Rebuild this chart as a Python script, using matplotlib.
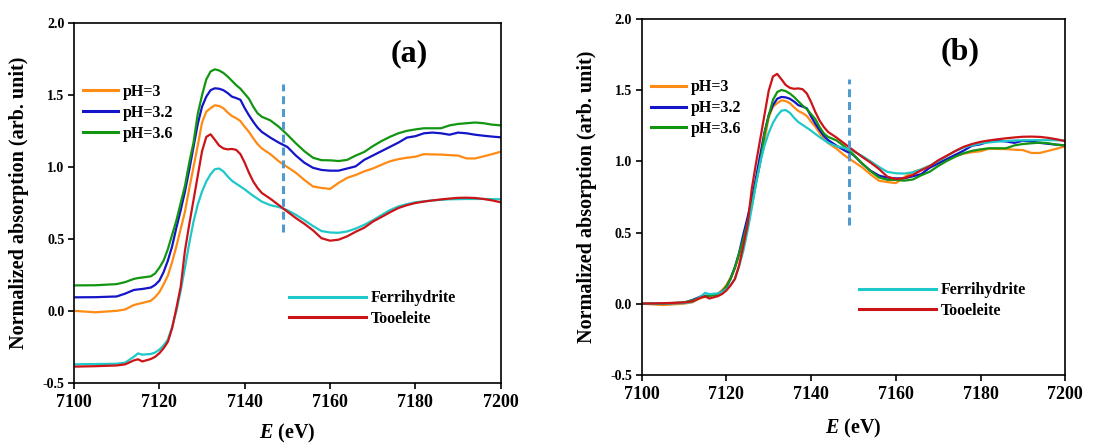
import numpy as np
import matplotlib
matplotlib.use("Agg")
import matplotlib.pyplot as plt

plt.rcParams['font.family'] = ['Liberation Serif', 'DejaVu Serif']
plt.rcParams['font.weight'] = 'bold'
plt.rcParams['mathtext.fontset'] = 'custom'
plt.rcParams['mathtext.bfit'] = 'Liberation Serif:bold:italic'

# Energy grid (eV)
energy = [7100, 7105, 7110, 7112, 7114, 7115, 7116, 7118, 7119,
          7120, 7121, 7122, 7123, 7124, 7125, 7126, 7127, 7128, 7129, 7130,
          7131, 7132, 7133, 7134, 7135, 7136, 7137, 7138, 7139, 7140,
          7141, 7142, 7143, 7144,
          7146, 7148, 7150, 7152, 7154, 7156, 7158, 7160, 7162, 7164, 7166,
          7168, 7170, 7172, 7174, 7176, 7178, 7180, 7182, 7184, 7186, 7188,
          7190, 7192, 7194, 7196, 7198, 7200]

# Stacked spectra as drawn in panel (a)
ph3_a = [0.0, -0.01, 0.0, 0.01, 0.04, 0.048, 0.055, 0.07, 0.095,
         0.13, 0.185, 0.245, 0.34, 0.45, 0.57, 0.69, 0.85, 1.0, 1.15, 1.31,
         1.385, 1.41, 1.43, 1.425, 1.41, 1.38, 1.355, 1.34, 1.32, 1.28,
         1.245, 1.2, 1.16, 1.13,
         1.09, 1.04, 1.00, 0.96, 0.91, 0.865, 0.855, 0.848, 0.89, 0.925, 0.945,
         0.97, 0.99, 1.015, 1.04, 1.055, 1.065, 1.072, 1.09, 1.088, 1.087, 1.083,
         1.08, 1.06, 1.06, 1.075, 1.09, 1.107]
ph32_a = [0.094, 0.095, 0.10, 0.12, 0.145, 0.149, 0.152, 0.162, 0.18,
          0.21, 0.27, 0.35, 0.45, 0.58, 0.70, 0.83, 0.98, 1.14, 1.30, 1.42,
          1.49, 1.535, 1.548, 1.545, 1.535, 1.515, 1.49, 1.48, 1.468, 1.41,
          1.36, 1.315, 1.275, 1.245,
          1.205, 1.17, 1.14, 1.08, 1.03, 0.995, 0.98, 0.975, 0.975, 0.99, 1.005,
          1.05, 1.08, 1.11, 1.14, 1.17, 1.205, 1.215, 1.235, 1.24, 1.235, 1.225,
          1.24, 1.235, 1.225, 1.218, 1.212, 1.207]
ph36_a = [0.177, 0.178, 0.186, 0.20, 0.222, 0.228, 0.232, 0.24, 0.26,
          0.30, 0.35, 0.43, 0.53, 0.63, 0.75, 0.87, 1.03, 1.17, 1.37, 1.50,
          1.61, 1.665, 1.68, 1.672, 1.655, 1.63, 1.60, 1.57, 1.545, 1.51,
          1.475, 1.42, 1.375, 1.35,
          1.325, 1.28, 1.225, 1.165, 1.11, 1.065, 1.048, 1.047, 1.042, 1.05, 1.08,
          1.105, 1.145, 1.18, 1.21, 1.235, 1.252, 1.262, 1.27, 1.27, 1.27, 1.29,
          1.30, 1.305, 1.31, 1.305, 1.295, 1.29]
ferri_a = [-0.372, -0.37, -0.368, -0.36, -0.32, -0.296, -0.305, -0.30, -0.29,
           -0.27, -0.24, -0.20, -0.11, 0.0, 0.14, 0.3, 0.47, 0.62, 0.74, 0.83,
           0.9, 0.95, 0.985, 0.99, 0.97, 0.935, 0.905, 0.885, 0.865, 0.845,
           0.822, 0.8, 0.78, 0.76,
           0.735, 0.722, 0.7, 0.668, 0.63, 0.59, 0.555, 0.545, 0.543, 0.552, 0.572,
           0.598, 0.63, 0.665, 0.70, 0.726, 0.742, 0.755, 0.762, 0.768, 0.772, 0.776,
           0.777, 0.778, 0.778, 0.778, 0.777, 0.776]
tooe_a = [-0.388, -0.385, -0.38, -0.372, -0.345, -0.337, -0.352, -0.335, -0.32,
          -0.295, -0.26, -0.215, -0.12, 0.02, 0.168, 0.42, 0.6, 0.77, 0.94, 1.11,
          1.21, 1.228, 1.19, 1.15, 1.13, 1.123, 1.126, 1.12, 1.09, 1.03,
          0.96, 0.9, 0.855, 0.82,
          0.78, 0.735, 0.69, 0.645, 0.605, 0.56, 0.505, 0.488, 0.495, 0.518, 0.55,
          0.578, 0.62, 0.652, 0.685, 0.715, 0.735, 0.75, 0.76, 0.768, 0.775, 0.781,
          0.786, 0.787, 0.785, 0.778, 0.768, 0.755]

# vertical stacking offsets used in panel (a); panel (b) shows unshifted spectra
offsets = [0.0, 0.094, 0.177, -0.372, -0.388]

labels = ['pH=3', 'pH=3.2', 'pH=3.6', 'Ferrihydrite', 'Tooeleite']
colors = ['#FF8A14', '#1414C8', '#129612', '#1EC8C8', '#CC1418']
series_a = [ph3_a, ph32_a, ph36_a, ferri_a, tooe_a]

marker_energy = 7149
marker_range = [0.55, 1.58]

fig = plt.figure(figsize=(11.13, 4.44), dpi=100)
ax_a = fig.add_axes([0.0665, 0.138, 0.3834, 0.8095])
ax_b = fig.add_axes([0.5765, 0.156, 0.3806, 0.8005])

E = np.array(energy)


def style(ax, tag, xlab_y, tag_xy):
    ax.set_xlim(7100, 7200)
    ax.set_ylim(-0.5, 2.0)
    ax.set_xticks([7100, 7120, 7140, 7160, 7180, 7200])
    ax.set_yticks([-0.5, 0.0, 0.5, 1.0, 1.5, 2.0])
    ax.set_yticklabels(['-0.5', '0.0', '0.5', '1.0', '1.5', '2.0'])
    ax.tick_params(axis='x', direction='out', length=4, width=1.2,
                   labelsize=13, pad=4)
    ax.tick_params(axis='y', direction='out', length=4, width=1.2,
                   labelsize=10, pad=3)
    for lab in ax.get_xticklabels() + ax.get_yticklabels():
        lab.set_fontweight('bold')
    for sp in ax.spines.values():
        sp.set_linewidth(1.2)
    ax.set_xlabel(r'$\boldsymbol{E}$ (eV)', fontsize=14.5, fontweight='bold')
    ax.set_ylabel('Normalized absorption (arb. unit)', fontsize=14.5,
                  fontweight='bold')
    ax.yaxis.set_label_coords(-0.105, 0.5)
    ax.xaxis.set_label_coords(0.5, xlab_y)
    ax.text(tag_xy[0], tag_xy[1], tag, transform=ax.transAxes, fontsize=23,
            fontweight='bold', ha='center', va='center')


handles_a = []
for y, c, lab in zip(series_a, colors, labels):
    h, = ax_a.plot(E, y, color=c, lw=1.6, label=lab)
    handles_a.append(h)
handles_b = []
for y, off, c, lab in zip(series_a, offsets, colors, labels):
    h, = ax_b.plot(E, np.array(y) - off, color=c, lw=1.6, label=lab)
    handles_b.append(h)

for ax in (ax_a, ax_b):
    ax.plot([marker_energy, marker_energy], marker_range, color='#519ACF',
            lw=2.2, linestyle=(0, (2.6, 1.6)))

style(ax_a, '(a)', -0.11, (0.785, 0.915))
style(ax_b, '(b)', -0.118, (0.753, 0.91))


def legends(ax, handles, y1, y2):
    kw = dict(frameon=False, borderpad=0, borderaxespad=0,
              prop={'family': 'Liberation Serif', 'weight': 'bold', 'size': 11.5},
              labelspacing=0.3, handletextpad=0.3)
    leg1 = ax.legend(handles[:3], labels[:3], loc='center left',
                     bbox_to_anchor=(0.021, y1), handlelength=2.2, **kw)
    for l in leg1.get_lines():
        l.set_linewidth(2.2)
    ax.add_artist(leg1)
    leg2 = ax.legend(handles[3:], labels[3:], loc='center left',
                     bbox_to_anchor=(y2[0], y2[1]), handlelength=4.8, **kw)
    for l in leg2.get_lines():
        l.set_linewidth(2.2)


legends(ax_a, handles_a, 0.751, (0.504, 0.2065))
legends(ax_b, handles_b, 0.750, (0.513, 0.2085))

fig.savefig('out.png', dpi=100)
